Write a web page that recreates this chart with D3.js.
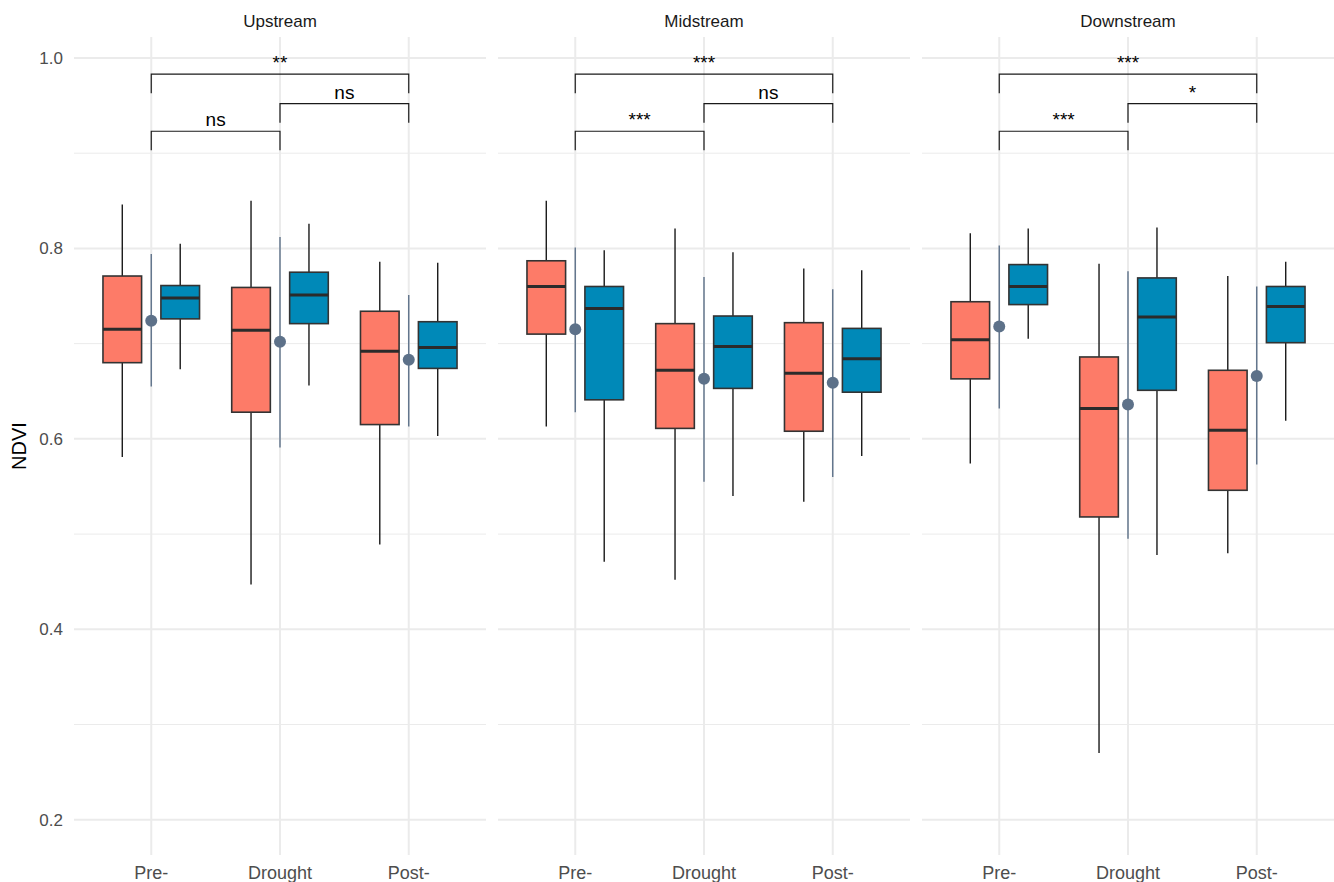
<!DOCTYPE html>
<html>
<head>
<meta charset="utf-8">
<script src="https://cdn.jsdelivr.net/npm/d3@7"></script>
<style>
  html, body { margin: 0; padding: 0; background: #fff; }
  svg { display: block; font-family: "Liberation Sans", Arial, sans-serif; }
</style>
</head>
<body>
<svg id="chart"></svg>
<script>
// facets and x categories
const facets = ["Upstream", "Midstream", "Downstream"]
const periods = ["Pre-", "Drought", "Post-"]
const groups = ["g1", "g2"]

// box stats per facet, per period: [whiskerLow, q1, median, q3, whiskerHigh]
const boxesG1 = [
  [[0.581, 0.680, 0.715, 0.771, 0.846], [0.447, 0.628, 0.714, 0.759, 0.850], [0.489, 0.615, 0.692, 0.734, 0.786]],
  [[0.613, 0.710, 0.760, 0.787, 0.850], [0.452, 0.611, 0.672, 0.721, 0.821], [0.534, 0.608, 0.669, 0.722, 0.779]],
  [[0.574, 0.663, 0.704, 0.744, 0.816], [0.270, 0.518, 0.632, 0.686, 0.784], [0.480, 0.546, 0.609, 0.672, 0.771]]
]
const boxesG2 = [
  [[0.673, 0.726, 0.748, 0.761, 0.805], [0.656, 0.721, 0.751, 0.775, 0.826], [0.603, 0.674, 0.696, 0.723, 0.785]],
  [[0.471, 0.641, 0.737, 0.760, 0.798], [0.540, 0.653, 0.697, 0.729, 0.796], [0.582, 0.649, 0.684, 0.716, 0.777]],
  [[0.705, 0.741, 0.760, 0.783, 0.821], [0.478, 0.651, 0.728, 0.769, 0.822], [0.619, 0.701, 0.739, 0.760, 0.786]]
]

// mean point with its range line, per facet, per period
const meanValues = [[0.724, 0.702, 0.683], [0.715, 0.663, 0.659], [0.718, 0.636, 0.666]]
const meanLow = [[0.655, 0.591, 0.613], [0.628, 0.555, 0.560], [0.632, 0.495, 0.573]]
const meanHigh = [[0.794, 0.812, 0.751], [0.801, 0.770, 0.757], [0.803, 0.776, 0.760]]

// significance brackets: [from, to, height, label] per facet
const bracketPairs = [["Pre-", "Drought"], ["Drought", "Post-"], ["Pre-", "Post-"]]
const bracketHeights = [0.923, 0.952, 0.983]
const bracketLabels = [["ns", "ns", "**"], ["***", "ns", "***"], ["***", "*", "***"]]

const yTicks = [0.2, 0.4, 0.6, 0.8, 1.0]
const yMinor = [0.3, 0.5, 0.7, 0.9]

const width = 1334
const height = 882
const panelLeft = [74, 498, 922]
const panelWidth = 412
const panelTop = 37
const panelBottom = 855

const fillColor = { g1: "#fd7b68", g2: "#0089b8" }
const meanColor = "#5d7189"
const gridColor = "#ebebeb"

const svg = d3.select("#chart").attr("width", width).attr("height", height)

const y = d3.scaleLinear()
  .domain([0.163, 1.022])
  .range([panelBottom, panelTop])

// y axis labels (left panel only)
svg.append("g")
  .selectAll("text")
  .data(yTicks)
  .join("text")
  .attr("x", 63)
  .attr("y", d => y(d))
  .attr("dy", "0.35em")
  .attr("text-anchor", "end")
  .attr("font-size", 17)
  .attr("fill", "#4d4d4d")
  .text(d3.format(".1f"))

svg.append("text")
  .attr("transform", `translate(26,${(panelTop + panelBottom) / 2}) rotate(-90)`)
  .attr("text-anchor", "middle")
  .attr("font-size", 20)
  .attr("fill", "#000")
  .text("NDVI")

facets.forEach((facet, fi) => {
  const x0 = panelLeft[fi]
  const x = d3.scalePoint()
    .domain(periods)
    .range([x0, x0 + panelWidth])
    .padding(0.6)
  const step = x.step()
  const dodge = d3.scalePoint().domain(groups).range([-0.225 * step, 0.225 * step])
  const boxW = 0.3 * step

  const g = svg.append("g")

  // grid
  g.selectAll(".minor")
    .data(yMinor)
    .join("line")
    .attr("x1", x0).attr("x2", x0 + panelWidth)
    .attr("y1", d => y(d)).attr("y2", d => y(d))
    .attr("stroke", gridColor).attr("stroke-width", 1)

  g.selectAll(".major")
    .data(yTicks)
    .join("line")
    .attr("x1", x0).attr("x2", x0 + panelWidth)
    .attr("y1", d => y(d)).attr("y2", d => y(d))
    .attr("stroke", gridColor).attr("stroke-width", 2)

  g.selectAll(".vgrid")
    .data(periods)
    .join("line")
    .attr("x1", d => x(d)).attr("x2", d => x(d))
    .attr("y1", panelTop).attr("y2", panelBottom)
    .attr("stroke", gridColor).attr("stroke-width", 2)

  // strip label
  g.append("text")
    .attr("x", x0 + panelWidth / 2)
    .attr("y", 27)
    .attr("text-anchor", "middle")
    .attr("font-size", 17)
    .attr("fill", "#1a1a1a")
    .text(facet)

  // x tick labels
  g.selectAll(".xlab")
    .data(periods)
    .join("text")
    .attr("x", d => x(d))
    .attr("y", 879)
    .attr("text-anchor", "middle")
    .attr("font-size", 18)
    .attr("fill", "#4d4d4d")
    .text(d => d)

  // boxes
  const boxData = []
  periods.forEach((p, pi) => {
    boxData.push({ period: p, group: "g1", s: boxesG1[fi][pi] })
    boxData.push({ period: p, group: "g2", s: boxesG2[fi][pi] })
  })

  const box = g.selectAll(".box")
    .data(boxData)
    .join("g")
    .attr("transform", d => `translate(${x(d.period) + dodge(d.group)},0)`)

  box.append("line")
    .attr("y1", d => y(d.s[0])).attr("y2", d => y(d.s[4]))
    .attr("stroke", "#1a1a1a").attr("stroke-width", 1.4)

  box.append("rect")
    .attr("x", -boxW / 2)
    .attr("width", boxW)
    .attr("y", d => y(d.s[3]))
    .attr("height", d => y(d.s[1]) - y(d.s[3]))
    .attr("fill", d => fillColor[d.group])
    .attr("stroke", "#333").attr("stroke-width", 1.6)

  box.append("line")
    .attr("x1", -boxW / 2).attr("x2", boxW / 2)
    .attr("y1", d => y(d.s[2])).attr("y2", d => y(d.s[2]))
    .attr("stroke", "#2b2b2b").attr("stroke-width", 3)

  // mean and range
  const means = periods.map((p, pi) => ({
    period: p, m: meanValues[fi][pi], lo: meanLow[fi][pi], hi: meanHigh[fi][pi]
  }))

  g.selectAll(".mline")
    .data(means)
    .join("line")
    .attr("x1", d => x(d.period)).attr("x2", d => x(d.period))
    .attr("y1", d => y(d.lo)).attr("y2", d => y(d.hi))
    .attr("stroke", meanColor).attr("stroke-width", 1.4)

  g.selectAll(".mpt")
    .data(means)
    .join("circle")
    .attr("cx", d => x(d.period))
    .attr("cy", d => y(d.m))
    .attr("r", 6)
    .attr("fill", meanColor)

  // brackets
  const br = bracketPairs.map((pr, bi) => ({
    a: pr[0], b: pr[1], h: bracketHeights[bi], label: bracketLabels[fi][bi]
  }))
  const tip = 0.02

  g.selectAll(".bracket")
    .data(br)
    .join("path")
    .attr("d", d => `M${x(d.a)},${y(d.h - tip)}V${y(d.h)}H${x(d.b)}V${y(d.h - tip)}`)
    .attr("fill", "none")
    .attr("stroke", "#1a1a1a").attr("stroke-width", 1.2)

  g.selectAll(".blab")
    .data(br)
    .join("text")
    .attr("x", d => (x(d.a) + x(d.b)) / 2)
    .attr("y", d => y(d.h) - 5)
    .attr("text-anchor", "middle")
    .attr("font-size", 19)
    .attr("fill", "#000")
    .text(d => d.label)
})
</script>
</body>
</html>
